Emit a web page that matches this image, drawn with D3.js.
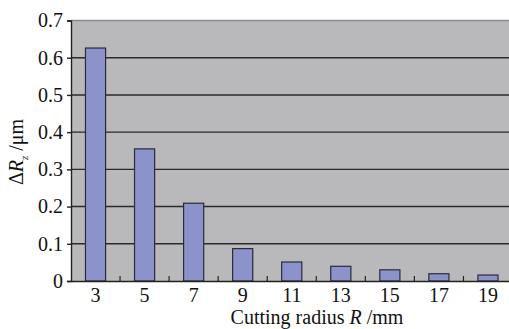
<!DOCTYPE html>
<html><head><meta charset="utf-8">
<script src="https://cdn.jsdelivr.net/npm/d3@7"></script>
<style>body{margin:0;background:#fff}svg{display:block}
svg text{font-family:"Liberation Serif","Tinos","DejaVu Serif","Noto Serif","FreeSerif","Nimbus Roman","Nimbus Roman No9 L","Times New Roman","Times",serif;}</style>
</head><body>
<script>
const categories = ["3","5","7","9","11","13","15","17","19"];
const values = [0.626, 0.355, 0.209, 0.087, 0.051, 0.0395, 0.030, 0.0195, 0.016];
const yTicks = [0,0.1,0.2,0.3,0.4,0.5,0.6,0.7];

const W = 509, H = 329;
const m = {left:71, top:20.5, right:-3.5, bottom:48};
const svg = d3.select("body").append("svg").attr("width",W).attr("height",H);
const iw = W - m.left - m.right, ih = H - m.top - m.bottom;
const x = d3.scaleBand().domain(categories).range([m.left, m.left+iw]).paddingInner(0.59).paddingOuter(0.295);
const y = d3.scaleLinear().domain([0,0.7]).range([m.top+ih, m.top]);

svg.append("rect").attr("x",m.left).attr("y",m.top).attr("width",iw).attr("height",ih).attr("fill","#b9b9bb");
svg.append("line").attr("x1",m.left).attr("x2",m.left+iw).attr("y1",m.top).attr("y2",m.top).attr("stroke","#8a8a8a").attr("stroke-width",1.5);

svg.append("g").selectAll("line").data(yTicks.filter(d=>d>0 && d<0.7)).join("line")
  .attr("x1",m.left).attr("x2",m.left+iw).attr("y1",d=>y(d)).attr("y2",d=>y(d))
  .attr("stroke","#2a2a2a").attr("stroke-width",1.4);

svg.append("g").selectAll("rect").data(values).join("rect")
  .attr("x",(d,i)=>x(categories[i])).attr("width",x.bandwidth())
  .attr("y",d=>y(d)).attr("height",d=>y(0)-y(d))
  .attr("fill","#8c93cb").attr("stroke","#2a2a3a").attr("stroke-width",1.2);

const ya = svg.append("g").attr("transform",`translate(${m.left},0)`)
  .call(d3.axisLeft(y).tickValues(yTicks).tickSize(4).tickPadding(4).tickFormat(d=>d===0?"0":d3.format(".1f")(d)));
ya.attr("font-family",null);
ya.select(".domain").attr("stroke","#222").attr("stroke-width",1.4);
ya.selectAll(".tick line").attr("stroke","#222").attr("stroke-width",1.4);
ya.selectAll("text").style("font-size","20px").attr("fill","#111");

const xa = svg.append("g").attr("transform",`translate(0,${y(0)})`)
  .call(d3.axisBottom(x).tickSize(0).tickPadding(7));
xa.attr("font-family",null);
xa.select(".domain").attr("stroke","#222").attr("stroke-width",1.6);
xa.selectAll("text").style("font-size","20px").attr("fill","#111");
const step = x.step();
svg.append("g").selectAll("line").data(categories.slice(1)).join("line")
  .attr("x1",d=>x(d)-x.paddingInner()*step/2).attr("x2",d=>x(d)-x.paddingInner()*step/2)
  .attr("y1",y(0)).attr("y2",y(0)-5).attr("stroke","#222").attr("stroke-width",1.2);

const xt = svg.append("text").attr("x",317).attr("y",324).attr("text-anchor","middle")
  .style("font-size","20px").attr("fill","#111");
xt.append("tspan").text("Cutting radius ");
xt.append("tspan").attr("font-style","italic").text("R");
xt.append("tspan").text(" /mm");

const yt = svg.append("text").attr("transform","translate(23,152) rotate(-90)").attr("text-anchor","middle")
  .style("font-size","20px").attr("fill","#111");
yt.append("tspan").text("Δ");
yt.append("tspan").attr("font-style","italic").text("R");
yt.append("tspan").attr("font-style","italic").style("font-size","11px").attr("dy",5).text("z");
yt.append("tspan").attr("dy",-5).text(" /μm");
</script>
</body></html>
